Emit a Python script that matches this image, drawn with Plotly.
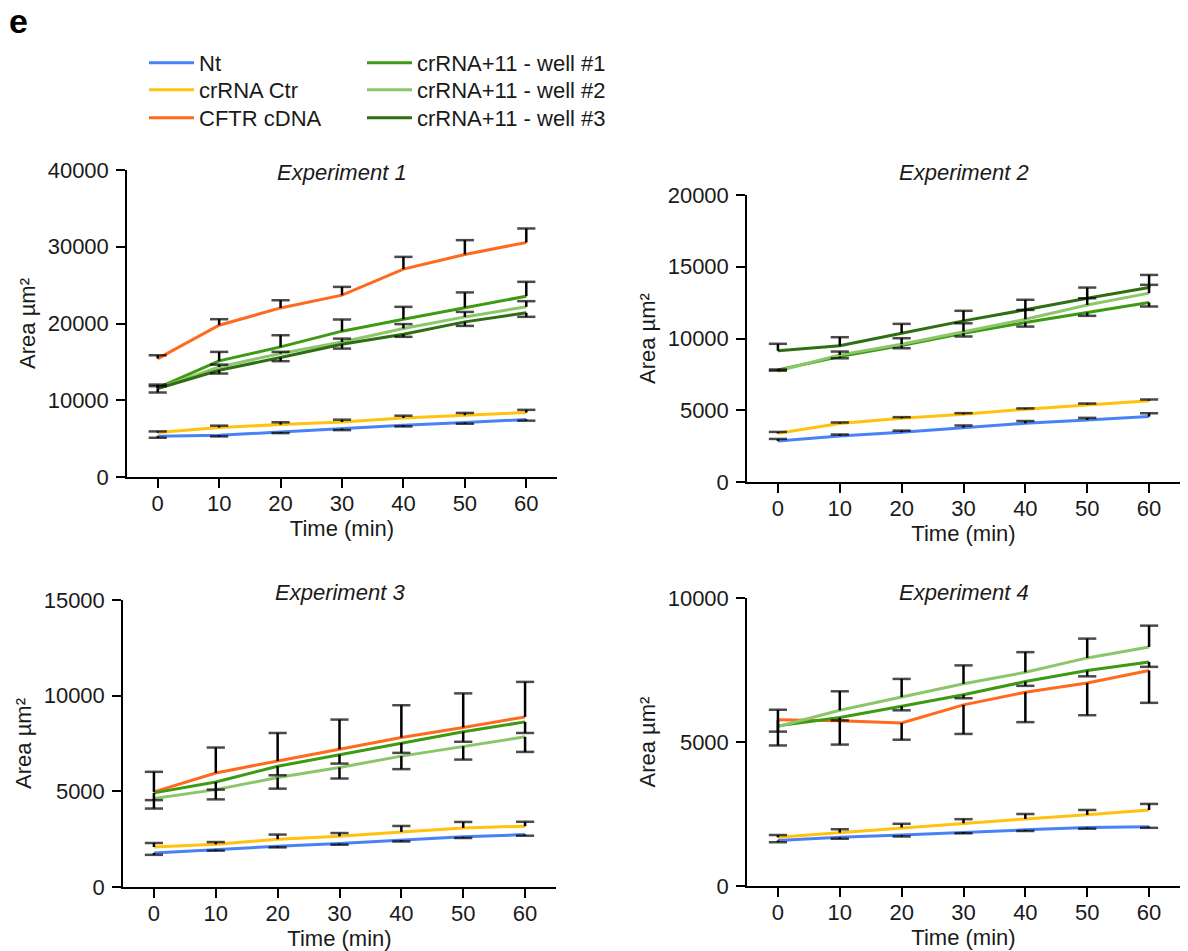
import plotly.graph_objects as go

# ---------------- data ----------------
TIME = [0, 10, 20, 30, 40, 50, 60]
SERIES = ["Nt", "crRNA Ctr", "CFTR cDNA",
          "crRNA+11 - well #1", "crRNA+11 - well #2", "crRNA+11 - well #3"]
COLORS = ["#4a82f5", "#ffc20e", "#ff6a1f", "#3d9a13", "#8cc66b", "#2f6e13"]
TITLES = ["Experiment 1", "Experiment 2", "Experiment 3", "Experiment 4"]

# Experiment 1 (mean, error; direction +1 up / -1 down per series)
e1_nt = [5310, 5440, 5870, 6310, 6740, 7090, 7490]
e1_nt_err = [200, 150, 150, 200, 150, 150, 150]
e1_ctr = [5790, 6440, 6830, 7170, 7690, 8050, 8400]
e1_ctr_err = [150, 250, 300, 300, 300, 300, 350]
e1_cftr = [15430, 19780, 22030, 23690, 27080, 29000, 30560]
e1_cftr_err = [430, 780, 1000, 1080, 1600, 1860, 1820]
e1_w1 = [11610, 15130, 16950, 19000, 20560, 22090, 23560]
e1_w1_err = [430, 1170, 1520, 1520, 1610, 1960, 1870]
e1_w2 = [11530, 14340, 16090, 17600, 19350, 20860, 22170]
e1_w2_err = [300, 300, 220, 430, 570, 650, 740]
e1_w3 = [11530, 13910, 15570, 17300, 18610, 20210, 21390]
e1_w3_err = [520, 430, 480, 570, 350, 520, 520]
e1_dir = [-1, 1, 1, 1, 1, -1]

# Experiment 2
e2_nt = [2860, 3210, 3460, 3790, 4090, 4320, 4560]
e2_nt_err = [140, 100, 120, 150, 160, 150, 230]
e2_ctr = [3390, 4070, 4440, 4720, 5070, 5390, 5670]
e2_ctr_err = [100, 80, 80, 80, 60, 80, 80]
e2_w1 = [7810, 8740, 9510, 10370, 11110, 11810, 12510]
e2_w1_err = [50, 120, 190, 230, 280, 230, 280]
e2_w2 = [7740, 8860, 9600, 10480, 11340, 12340, 13160]
e2_w2_err = [100, 230, 420, 580, 650, 465, 580]
e2_w3 = [9140, 9490, 10370, 11230, 12000, 12810, 13550]
e2_w3_err = [490, 600, 650, 700, 700, 740, 880]
e2_dir = [1, 1, 1, -1, 1, 1]

# Experiment 3
e3_nt = [1780, 1960, 2130, 2270, 2440, 2620, 2740]
e3_nt_err = [100, 60, 60, 60, 60, 60, 60]
e3_ctr = [2090, 2230, 2500, 2650, 2880, 3090, 3180]
e3_ctr_err = [210, 120, 240, 170, 310, 310, 230]
e3_cftr = [4970, 5960, 6590, 7200, 7810, 8340, 8890]
e3_cftr_err = [1050, 1330, 1460, 1550, 1690, 1780, 1830]
e3_w1 = [4920, 5490, 6310, 6920, 7530, 8110, 8630]
e3_w1_err = [380, 400, 470, 470, 520, 520, 580]
e3_w2 = [4620, 5090, 5720, 6250, 6840, 7360, 7850]
e3_w2_err = [520, 510, 580, 580, 680, 700, 790]
e3_dir = [-1, 1, 1, -1, -1, 1]

# Experiment 4
e4_nt = [1580, 1690, 1770, 1870, 1950, 2030, 2060]
e4_nt_err = [60, 50, 50, 40, 40, 40, 40]
e4_ctr = [1690, 1850, 2030, 2180, 2330, 2470, 2640]
e4_ctr_err = [80, 120, 130, 140, 170, 170, 210]
e4_cftr = [5770, 5740, 5660, 6290, 6730, 7050, 7480]
e4_cftr_err = [890, 830, 580, 1010, 1040, 1120, 1120]
e4_w1 = [5560, 5850, 6240, 6640, 7100, 7480, 7780]
e4_w1_err = [200, 100, 140, 120, 150, 200, 170]
e4_w2 = [5540, 6100, 6560, 7020, 7420, 7920, 8300]
e4_w2_err = [580, 660, 630, 640, 700, 670, 740]
e4_dir = [-1, 1, -1, -1, 1, 1]

Y_MAX = [40000, 20000, 15000, 10000]
Y_DTICK = [10000, 5000, 5000, 5000]

EXPERIMENTS = [
    ([e1_nt, e1_ctr, e1_cftr, e1_w1, e1_w2, e1_w3],
     [e1_nt_err, e1_ctr_err, e1_cftr_err, e1_w1_err, e1_w2_err, e1_w3_err], e1_dir),
    ([e2_nt, e2_ctr, None, e2_w1, e2_w2, e2_w3],
     [e2_nt_err, e2_ctr_err, None, e2_w1_err, e2_w2_err, e2_w3_err], e2_dir),
    ([e3_nt, e3_ctr, e3_cftr, e3_w1, e3_w2, None],
     [e3_nt_err, e3_ctr_err, e3_cftr_err, e3_w1_err, e3_w2_err, None], e3_dir),
    ([e4_nt, e4_ctr, e4_cftr, e4_w1, e4_w2, None],
     [e4_nt_err, e4_ctr_err, e4_cftr_err, e4_w1_err, e4_w2_err, None], e4_dir),
]

# ---------------- geometry (screen pixels) ----------------
W, H = 1188, 951


def px(xs):
    return xs / W


def py(ys):
    return (H - ys) / H


FONT = "Liberation Sans, Arial, Helvetica, sans-serif"
TXT = "#1a1a1a"
FS = 22
# (left, right, top, bottom) of each axis box in pixels
BOXES = [(127, 557, 170, 477), (747, 1180, 195, 482),
         (123, 556, 600, 887), (747, 1180, 598, 886)]
TITLE_Y = [172, 172, 592, 592]
LEG_X = [144, 144, 144, 362, 362, 362]
LEG_Y = [63, 90, 118, 63, 90, 118]

fig = go.Figure()
layout = {}
for k, (vals, errs, dirs) in enumerate(EXPERIMENTS):
    n = "" if k == 0 else str(k + 1)
    xa, ya = "x" + n, "y" + n
    for s, v in enumerate(vals):
        if v is None:
            continue
        fig.add_trace(go.Scatter(
            x=TIME, y=v, mode="lines", name=SERIES[s],
            line=dict(color=COLORS[s], width=3),
            xaxis=xa, yaxis=ya, showlegend=(k == 0),
            legend="legend" if s == 0 else "legend%d" % (s + 1),
            legendgroup=SERIES[s]))
    # one-sided error bars (Prism style)
    for s, v in enumerate(vals):
        if v is None:
            continue
        ex, ey, es = [], [], []
        for t, m, e in zip(TIME, v, errs[s]):
            ex += [t, t, None]
            ey += [m, m + dirs[s] * e, None]
            es += [0, 13, 0]
        fig.add_trace(go.Scatter(
            x=ex, y=ey, mode="lines+markers",
            line=dict(color="black", width=2.5),
            marker=dict(symbol="line-ew", size=es,
                        line=dict(color="black", width=2.5)),
            xaxis=xa, yaxis=ya, showlegend=False, hoverinfo="skip",
            legendgroup=SERIES[s]))

    l, r, t, b = BOXES[k]
    axis_common = dict(
        showline=True, linecolor="black", linewidth=1.5,
        ticks="outside", ticklen=9, tickwidth=1.5, tickcolor="black",
        showgrid=False, zeroline=False,
        tickfont=dict(family=FONT, size=FS, color=TXT),
    )
    layout["xaxis" + n] = dict(
        axis_common, domain=[px(l), px(r)], range=[-5, 65],
        tickvals=TIME, anchor=ya, ticklabelstandoff=-3,
        title=dict(text="Time (min)", font=dict(family=FONT, size=FS, color=TXT),
                   standoff=4))
    layout["yaxis" + n] = dict(
        axis_common, domain=[py(b), py(t)], range=[0, Y_MAX[k]],
        dtick=Y_DTICK[k], tick0=0, tickformat="d", anchor=xa,
        ticklabelstandoff=3,
        title=dict(text="Area µm²", font=dict(family=FONT, size=FS, color=TXT),
                   standoff=6))

annotations = [dict(text="e", x=px(8), y=py(21), xref="paper", yref="paper",
                    xanchor="left", yanchor="middle", showarrow=False, borderpad=0,
                    font=dict(family=FONT, size=34, color="black", weight="bold"))]
for k in range(4):
    l, r, t, b = BOXES[k]
    annotations.append(dict(
        text="<i>%s</i>" % TITLES[k], x=px((l + r) / 2), y=py(TITLE_Y[k]),
        xref="paper", yref="paper", xanchor="center", yanchor="middle",
        showarrow=False, font=dict(family=FONT, size=FS, color=TXT)))

legends = {}
for s in range(6):
    key = "legend" if s == 0 else "legend%d" % (s + 1)
    legends[key] = dict(
        font=dict(family=FONT, size=FS, color=TXT),
        bgcolor="rgba(0,0,0,0)", borderwidth=0,
        xref="paper", yref="paper", xanchor="left", yanchor="middle",
        x=px(LEG_X[s]), y=py(LEG_Y[s]), itemwidth=45)

fig.update_layout(
    width=W, height=H,
    margin=dict(l=0, r=0, t=0, b=0, autoexpand=False),
    paper_bgcolor="white", plot_bgcolor="white",
    font=dict(family=FONT, size=FS, color=TXT),
    annotations=annotations,
    **legends,
    **layout)

# the page's default 8px body margin is removed so the figure fills the window
fig.write_html("out.html", config={"displayModeBar": False},
               post_script="document.body.style.margin = '0px';")
